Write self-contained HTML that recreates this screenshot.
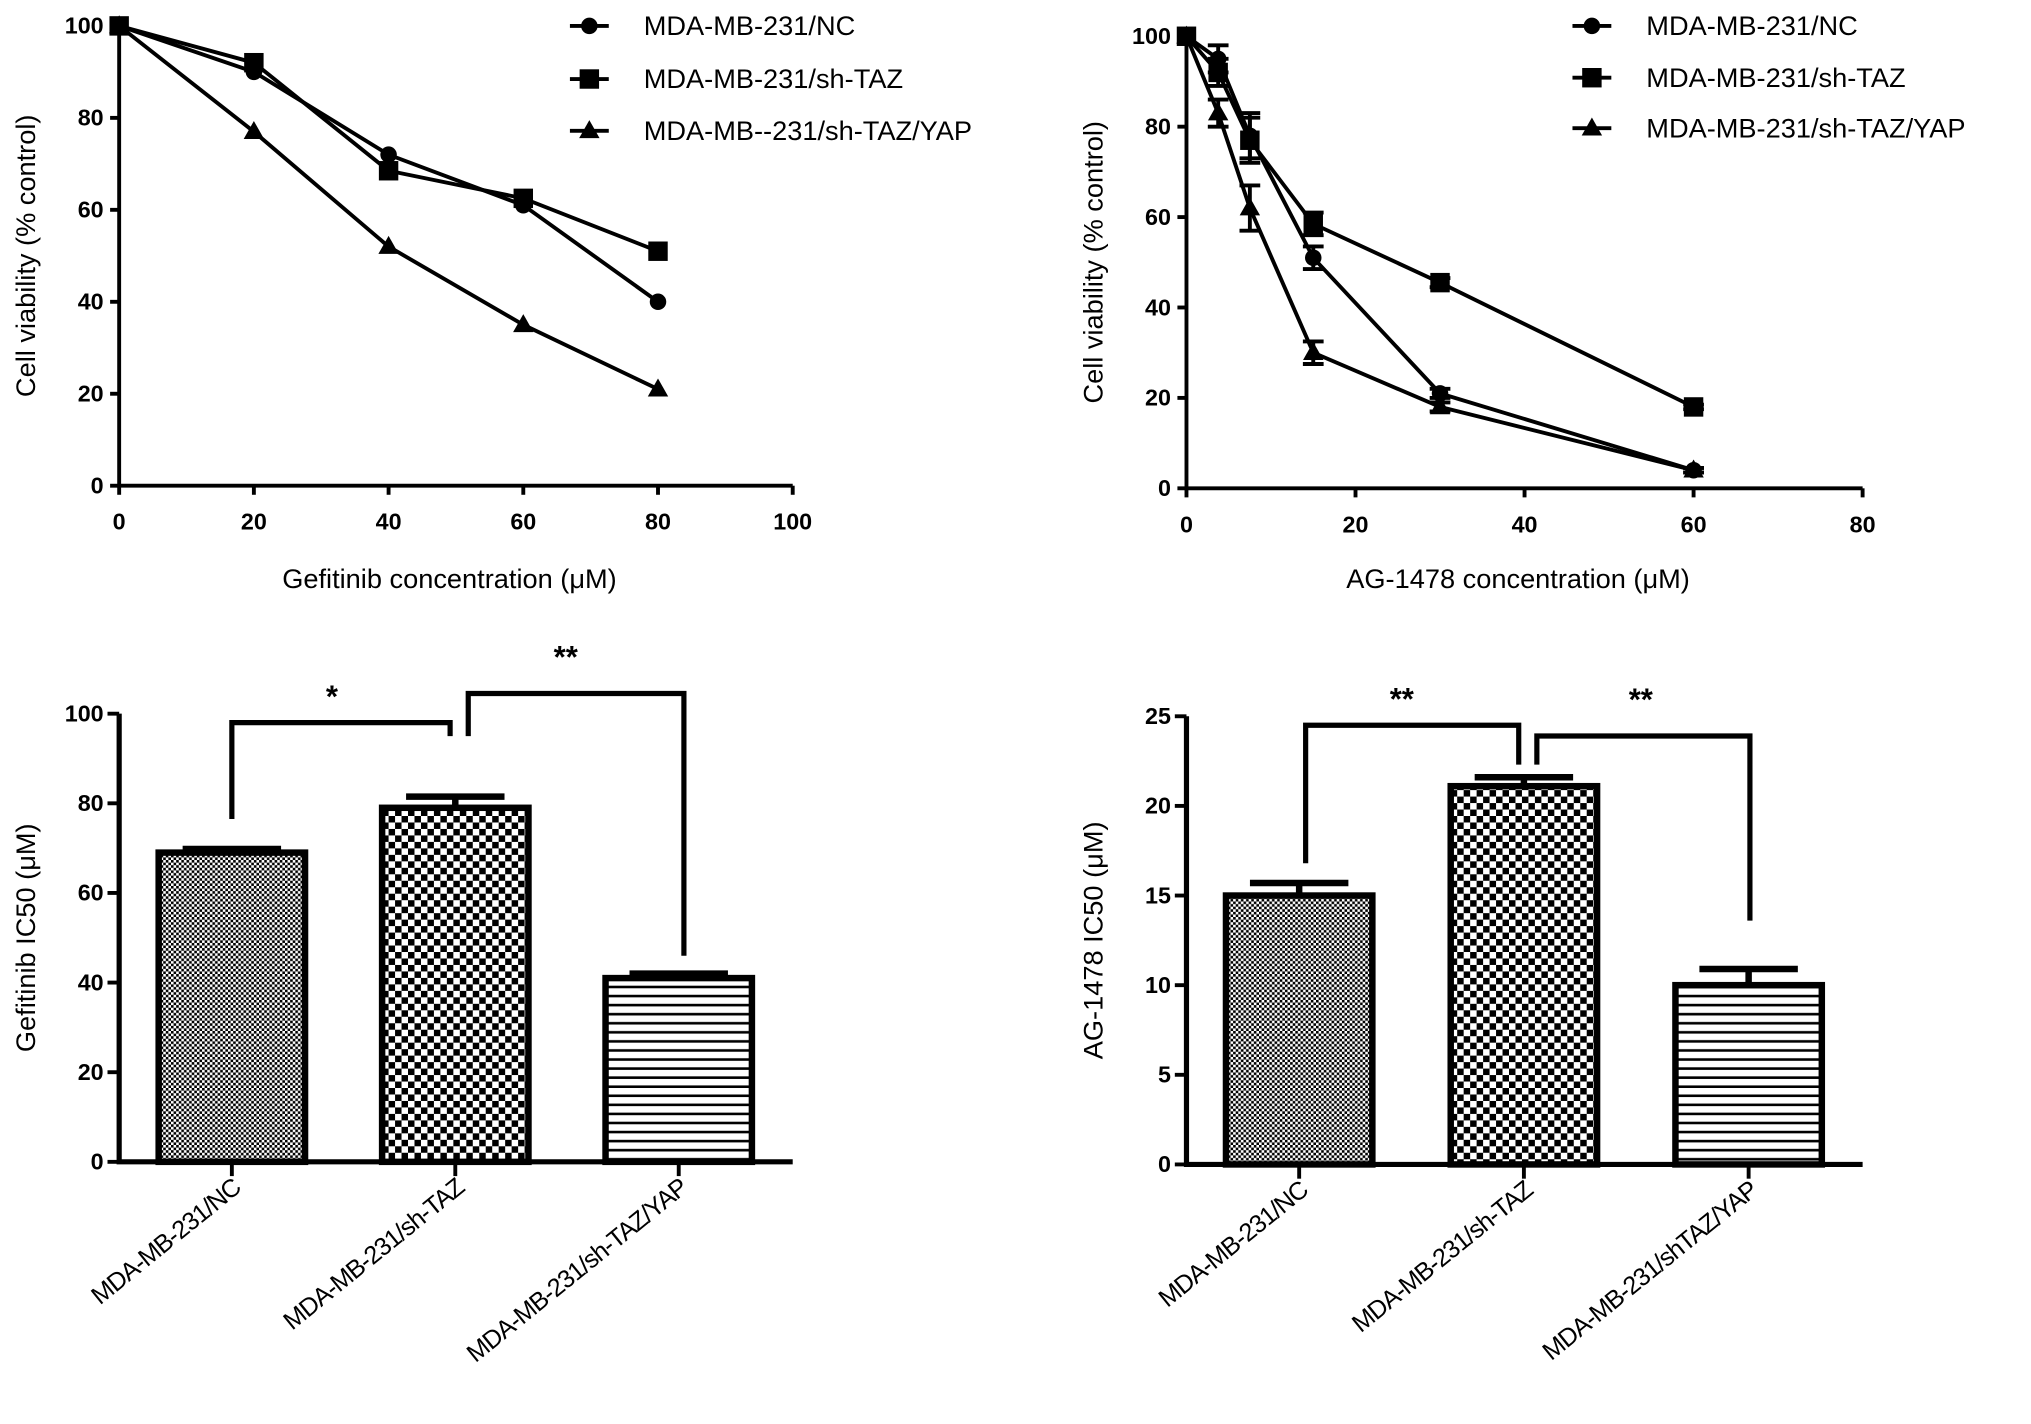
<!DOCTYPE html>
<html><head><meta charset="utf-8"><style>
html,body{margin:0;padding:0;background:#fff;}
svg{display:block;font-family:"Liberation Sans",Arial,sans-serif;}
</style></head><body>
<svg id="s" width="2031" height="1424" viewBox="0 0 1568 1099.4" preserveAspectRatio="none" xmlns="http://www.w3.org/2000/svg">
<defs>
<pattern id="pNC" width="4" height="4" patternUnits="userSpaceOnUse"><rect width="4" height="4" fill="#fff"/><rect width="2" height="2" fill="#000"/><rect x="2" y="2" width="2" height="2" fill="#000"/></pattern>
<pattern id="pTAZ" width="10" height="10" patternUnits="userSpaceOnUse"><rect width="10" height="10" fill="#fff"/><rect width="5" height="5" fill="#000"/><rect x="5" y="5" width="5" height="5" fill="#000"/></pattern>
<pattern id="pYAP" width="10" height="7" patternUnits="userSpaceOnUse"><rect width="10" height="7" fill="#fff"/><rect y="5" width="10" height="2" fill="#000"/></pattern>
</defs>
</svg>
<script>
// Chart A data (Gefitinib)
const aX=[0,20,40,60,80];
const aNC=[100,90,72,61,40];
const aTAZ=[100,92,68.5,62.5,51];
const aYAP=[100,77,52,35,21];
const aXTicks=[0,20,40,60,80,100];
const yTicks=[0,20,40,60,80,100];
// Chart B data (AG-1478)
const bX=[0,3.75,7.5,15,30,60];
const bNC=[100,95,78,51,21,4];
const bTAZ=[100,92,77,58.5,45.5,18];
const bYAP=[100,83,62,30,18,4];
const bErr=[0,3,5,2.5,1,0.5];
const bXTicks=[0,20,40,60,80];
// Chart C data
const cats=["MDA-MB-231/NC","MDA-MB-231/sh-TAZ","MDA-MB-231/sh-TAZ/YAP"];
const catsD=["MDA-MB-231/NC","MDA-MB-231/sh-TAZ","MDA-MB-231/shTAZ/YAP"];
const cVals=[69,79,41];
const cErr=[0.8,2.5,1];
const cTicks=[0,20,40,60,80,100];
// Chart D data
const dVals=[15,21.1,10];
const dErr=[0.7,0.5,0.9];
const dTicks=[0,5,10,15,20,25];

const S=document.getElementById('s');
const NS='http://www.w3.org/2000/svg';
function el(t,a,p){const e=document.createElementNS(NS,t);for(const k in a)e.setAttribute(k,a[k]);(p||S).appendChild(e);return e;}
function txt(x,y,s,a,p){const e=el('text',Object.assign({x:x,y:y},a),p);e.textContent=s;return e;}

function marker(g,type,x,y,r){
  let m;
  if(type==='c')m=el('circle',{cx:x,cy:y,r:r*0.85,fill:'#000'},g);
  else if(type==='s')m=el('rect',{x:x-r,y:y-r,width:2*r,height:2*r,fill:'#000'},g);
  else m=el('polygon',{points:`${x},${y-r*1.1} ${x-r*1.05},${y+r*0.75} ${x+r*1.05},${y+r*0.75}`,fill:'#000'},g);
  return m;
}

function lineChart(o){
  const g=el('g',{});
  
  
  const sx=v=>o.x0+(v-o.xmin)/(o.xmax-o.xmin)*(o.x1-o.x0);
  const sy=v=>o.y0-(v/100)*(o.y0-o.y1);
  const ax=el('path',{d:`M${o.x0},${o.y1} V${o.y0} H${o.x1}`,stroke:'#000','stroke-width':3,fill:'none'},g);
  
  o.yt.forEach(v=>{el('line',{x1:o.x0-7,x2:o.x0,y1:sy(v),y2:sy(v),stroke:'#000','stroke-width':3},g);
    const t=txt(o.x0-12,sy(v)+6,v,{'text-anchor':'end','font-size':18,'font-weight':'bold'},g);
    });
  o.xt.forEach(v=>{el('line',{x1:sx(v),x2:sx(v),y1:o.y0,y2:o.y0+7,stroke:'#000','stroke-width':3},g);
    const t=txt(sx(v),o.y0+34,v,{'text-anchor':'middle','font-size':18,'font-weight':'bold'},g);
    });
  const xt=txt((o.x0+o.x1)/2-5,447+7,o.xtitle,{'text-anchor':'middle','font-size':21},g);
  
  const cy=(o.y0+o.y1)/2;
  const yt=txt(o.x0-65,cy,'Cell  viability (% control)',{'text-anchor':'middle','font-size':21,transform:`rotate(-90 ${o.x0-65} ${cy})`},g);
  
  o.series.forEach((s,i)=>{
    const sg=el('g',{},g);
    
    const pts=o.xs.map((x,j)=>sx(x)+','+sy(s.v[j])).join(' ');
    el('polyline',{points:pts,fill:'none',stroke:'#000','stroke-width':3},sg);
    o.xs.forEach((x,j)=>{
      if(o.err&&o.err[j]>0){const e=o.err[j];
        el('path',{d:`M${sx(x)},${sy(s.v[j]-e)}V${sy(s.v[j]+e)}M${sx(x)-8},${sy(s.v[j]+e)}h16M${sx(x)-8},${sy(s.v[j]-e)}h16`,stroke:'#000','stroke-width':3,fill:'none'},sg);}
      const m=marker(sg,s.m,sx(x),sy(s.v[j]),7.5);
      
    });
    const ly=o.ly[i];
    const lg=el('g',{},g);
    
    el('line',{x1:o.lx,x2:o.lx+30,y1:ly,y2:ly,stroke:'#000','stroke-width':3},lg);
    marker(lg,s.m,o.lx+15,ly,7.5);
    txt(o.lx+57,ly+7,s.label,{'font-size':21},lg);
  });
}

lineChart({name:'gefitinib-viability-chart',x0:92,x1:612,xmin:0,xmax:100,y0:375,y1:20,xs:aX,xt:aXTicks,yt:yTicks,
  xtitle:'Gefitinib concentration (\u03bcM)',lx:440,ly:[20,61,101],
  series:[{key:'nc',v:aNC,m:'c',label:'MDA-MB-231/NC'},{key:'sh-taz',v:aTAZ,m:'s',label:'MDA-MB-231/sh-TAZ'},{key:'sh-taz-yap',v:aYAP,m:'t',label:'MDA-MB--231/sh-TAZ/YAP'}]});
lineChart({name:'ag1478-viability-chart',x0:916,x1:1438,xmin:0,xmax:80,y0:377,y1:28,xs:bX,xt:bXTicks,yt:yTicks,err:bErr,
  xtitle:'AG-1478 concentration (\u03bcM)',lx:1214,ly:[20,60,99],
  series:[{key:'nc',v:bNC,m:'c',label:'MDA-MB-231/NC'},{key:'sh-taz',v:bTAZ,m:'s',label:'MDA-MB-231/sh-TAZ'},{key:'sh-taz-yap',v:bYAP,m:'t',label:'MDA-MB-231/sh-TAZ/YAP'}]});

function barChart(o){
  const g=el('g',{});
  
  const ymax=o.ticks[o.ticks.length-1];
  const sy=v=>o.y0-v/ymax*(o.y0-o.y1);
  const ax=el('path',{d:`M${o.x0},${o.y1} V${o.y0} H${o.x1}`,stroke:'#000','stroke-width':4,fill:'none'},g);
  
  o.ticks.forEach(v=>{el('line',{x1:o.x0-9,x2:o.x0,y1:sy(v),y2:sy(v),stroke:'#000','stroke-width':3},g);
    const t=txt(o.x0-12,sy(v)+6,v,{'text-anchor':'end','font-size':18,'font-weight':'bold'},g);
    });
  const cy=(o.y0+o.y1)/2;
  const yt=txt(o.x0-65,cy,o.ytitle,{'text-anchor':'middle','font-size':21,transform:`rotate(-90 ${o.x0-65} ${cy})`},g);
  
  const fills=['url(#pNC)','url(#pTAZ)','url(#pYAP)'];
  const top=[];
  o.vals.forEach((v,i)=>{
    const c=o.c0+i*o.step, w=113;
    const e=o.err[i];
    el('path',{d:`M${c},${sy(v)}V${sy(v+e)}M${c-38},${sy(v+e)}h76`,stroke:'#000','stroke-width':5,fill:'none'},g);
    const b=el('rect',{x:c-w/2,y:sy(v),width:w,height:o.y0-sy(v),fill:fills[i],stroke:'#000','stroke-width':5},g);
    
    el('line',{x1:c,x2:c,y1:o.y0,y2:o.y0+11,stroke:'#000','stroke-width':3},g);
    const lx=c+8,ly=o.y0+22;
    const t=txt(lx,ly,o.cats[i],{'text-anchor':'end','font-size':19.5,'letter-spacing':'-0.8',transform:`rotate(-39 ${lx} ${ly})`},g);
    
    top.push(c);
  });
  o.br.forEach(b=>{
    const xa=top[b.a]+b.da, xb=top[b.b]+b.db;
    const p=el('path',{d:`M${xa},${sy(b.la)}V${sy(b.y)}H${xb}V${sy(b.lb)}`,stroke:'#000','stroke-width':4,fill:'none'},g);
    
    const s=txt((xa+xb)/2+b.sx,sy(b.y)+b.sy,b.star,{'text-anchor':'middle','font-size':24,'font-weight':'bold'},g);
    
  });
}
barChart({name:'gefitinib-ic50-chart',x0:92,x1:612,y0:897,y1:551,ticks:cTicks,vals:cVals,err:cErr,cats:cats,c0:179,step:172.5,
  ytitle:'Gefitinib IC50 (\u03bcM)',
  br:[{a:0,b:1,da:0,db:-4,y:98,la:76.5,lb:95,star:'*',sx:-7,sy:-12},{a:1,b:2,da:10,db:4,y:104.5,la:95,lb:46,star:'**',sx:-8,sy:-20}]});
barChart({name:'ag1478-ic50-chart',x0:916,x1:1438,y0:899,y1:553,ticks:dTicks,vals:dVals,err:dErr,cats:catsD,c0:1003,step:173.5,
  ytitle:'AG-1478 IC50 (\u03bcM)',
  br:[{a:0,b:1,da:5,db:-4,y:24.5,la:16.8,lb:22.3,star:'**',sx:-8,sy:-12},{a:1,b:2,da:10,db:1,y:23.9,la:22.3,lb:13.6,star:'**',sx:-2,sy:-20}]});
</script>
</body></html>
